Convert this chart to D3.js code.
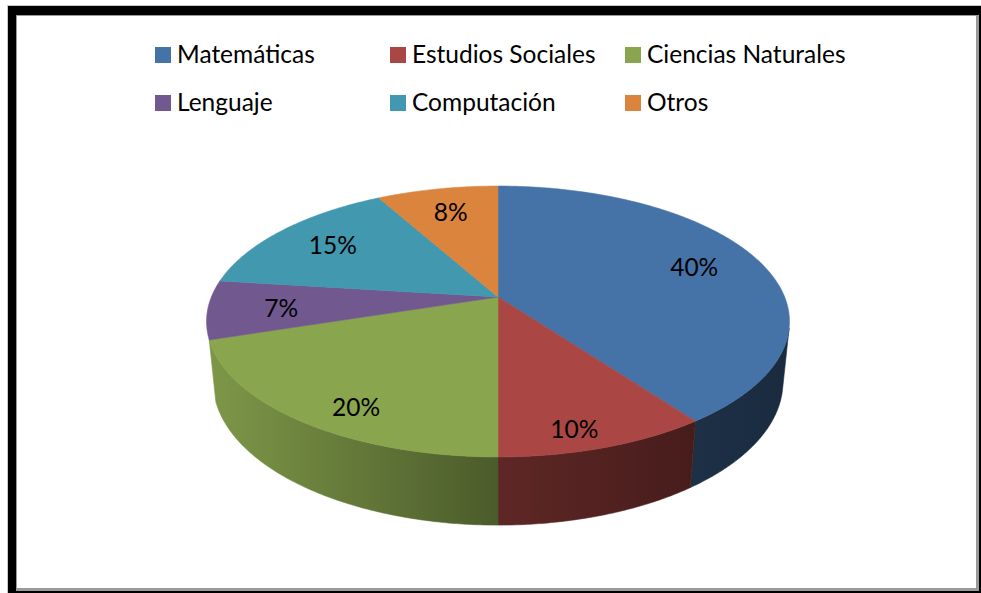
<!DOCTYPE html>
<html>
<head>
<meta charset="utf-8">
<script src="https://cdn.jsdelivr.net/npm/d3@7"></script>
<style>
  body { margin: 0; background: #fff; }
  text { font-family: Lato, "Open Sans", sans-serif; fill: #000; }
</style>
</head>
<body>
<svg id="chart" width="981" height="593"></svg>
<script>
const categories = ['Matemáticas', 'Estudios Sociales', 'Ciencias Naturales', 'Lenguaje', 'Computación', 'Otros'];
const values = [40, 10, 20, 7, 15, 8];
const colors = ['#4572a7', '#aa4643', '#89a54e', '#71588f', '#4198af', '#db843d'];

const width = 981, height = 593;
const svg = d3.select('#chart');

// frame (thick black top/left, thin on right/bottom)
svg.append('rect').attr('x', 7).attr('y', 5).attr('width', 974).attr('height', 588).attr('fill', '#c8c8c8');
svg.append('rect').attr('x', 8).attr('y', 6).attr('width', 973).attr('height', 587).attr('fill', '#000');
svg.append('rect').attr('x', 16).attr('y', 15).attr('width', 963).attr('height', 576).attr('fill', '#9a9a9a');
svg.append('rect').attr('x', 17).attr('y', 16).attr('width', 959).attr('height', 572).attr('fill', '#fff');

// perspective setup for the 3D disc
const cx = 498, cy = 297;
const R = 1, D = R / 0.2033, f = 1410;
const sA = 0.457, cA = Math.sqrt(1 - sA * sA);
const H = 0.239 * R;

function project(theta, r, y) {
  const X = r * Math.sin(theta), Z = -r * Math.cos(theta);
  const yc = -Z * sA + y * cA;
  const zc = D - Z * cA - y * sA;
  return [cx + f * X / zc, cy - f * yc / zc];
}

const pie = d3.pie().sort(null).value(d => d)(values);
const total = d3.sum(values);
const pct = d3.format('.0%');

// visible side wall range
const zLim = (R / D) / cA;
const visA = Math.acos(-zLim), visB = 2 * Math.PI - Math.acos(-zLim);

const defs = svg.append('defs');
const shade = [[0, 0.92], [0.5, 0.55], [0.83, 0.42], [1, 0.38]];
colors.forEach((c, i) => {
  const g = defs.append('linearGradient')
    .attr('id', 'wall' + i)
    .attr('gradientUnits', 'userSpaceOnUse')
    .attr('x1', cx - 292).attr('x2', cx + 292).attr('y1', 0).attr('y2', 0);
  const base = d3.rgb(c);
  shade.forEach(([o, k]) => {
    g.append('stop').attr('offset', o)
      .attr('stop-color', d3.rgb(base.r * k, base.g * k, base.b * k).formatHex());
  });
});

const line = d3.line();
const step = Math.PI / 360;

function arcPoints(a0, a1, y) {
  const pts = [];
  const n = Math.max(2, Math.ceil((a1 - a0) / step));
  for (let j = 0; j <= n; j++) pts.push(project(a0 + (a1 - a0) * j / n, R, y));
  return pts;
}

const wallG = svg.append('g').attr('class', 'walls');
const topG = svg.append('g').attr('class', 'tops');

pie.forEach((d, i) => {
  const a0 = Math.max(d.startAngle, visA), a1 = Math.min(d.endAngle, visB);
  // skip slivers that are seen almost edge-on
  if (a1 - a0 > 0.1) {
    const pts = arcPoints(a0, a1, 0).concat(arcPoints(a0, a1, -H).reverse());
    wallG.append('path')
      .attr('d', line(pts) + 'Z')
      .attr('fill', `url(#wall${i})`)
      .attr('stroke', `url(#wall${i})`)
      .attr('stroke-width', 0.6);
  }
});

pie.forEach((d, i) => {
  const pts = [project(0, 0, 0)].concat(arcPoints(d.startAngle, d.endAngle, 0));
  topG.append('path')
    .attr('d', line(pts) + 'Z')
    .attr('fill', colors[i])
    .attr('stroke', colors[i])
    .attr('stroke-width', 0.6);
});

// data labels
svg.append('g').selectAll('text')
  .data(pie)
  .join('text')
  .each(function (d) {
    const mid = (d.startAngle + d.endAngle) / 2;
    const p = project(mid, 0.75 * R, 0);
    const front = Math.max(0, -Math.cos(mid));
    d3.select(this)
      .attr('x', p[0])
      .attr('y', p[1] + front * 26)
      .attr('dy', '0.35em');
  })
  .attr('text-anchor', 'middle')
  .attr('font-size', 24.5)
  .text(d => pct(d.data / total));

// legend
const legend = svg.append('g').attr('class', 'legend');
const items = legend.selectAll('g')
  .data(categories)
  .join('g')
  .attr('transform', (d, i) => `translate(${155 + (i % 3) * 235},${47 + Math.floor(i / 3) * 48})`);

items.append('rect')
  .attr('width', 16).attr('height', 16)
  .attr('fill', (d, i) => colors[i]);

items.append('text')
  .attr('x', 22).attr('y', 16)
  .attr('font-size', 24.5)
  .text(d => d);
</script>
</body>
</html>
